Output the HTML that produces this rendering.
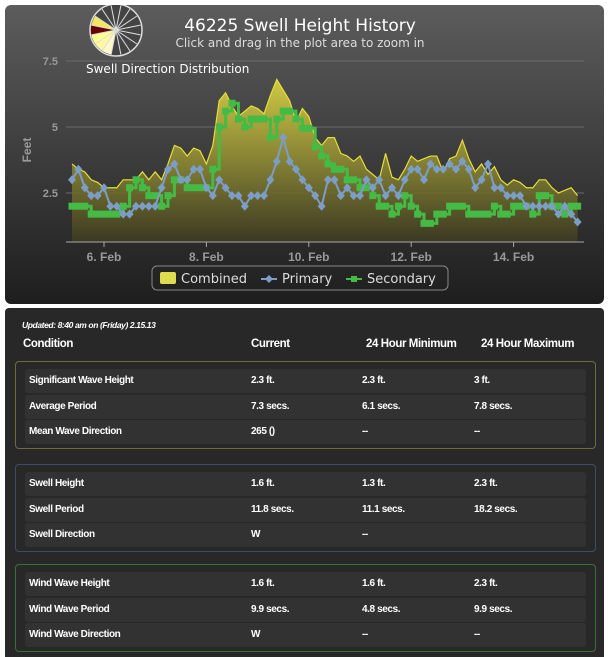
<!DOCTYPE html>
<html><head><meta charset="utf-8">
<style>
body{margin:0;width:609px;height:657px;background:#fff;overflow:hidden;font-family:"Liberation Sans",sans-serif;}
#chart-panel{position:absolute;left:5px;top:5px;width:599px;height:299px;border-radius:6px;background:linear-gradient(#5c5c5c,#1e1e1e);}
#table-panel{position:absolute;left:5px;top:308px;width:599px;height:349px;background:#282828;border-radius:4px 4px 0 0;}
.nar{font-family:"Liberation Sans",sans-serif;font-weight:bold;color:#fff;letter-spacing:-0.4px;}
.upd{position:absolute;left:17px;top:12px;font-size:8.5px;font-style:italic;}
.hdr{position:absolute;top:30px;font-size:11.5px;}
.grp{position:absolute;left:10px;width:579px;height:86px;border:1px solid #666;border-radius:4px;}
.row{position:absolute;left:9px;width:561px;height:24px;background:#323232;border-radius:3px;font-size:10px;}
.row span{position:absolute;top:6px;}
</style></head><body>
<div id="chart-panel">
<svg id="chart" width="599" height="299" style="position:absolute;left:0;top:0"></svg>
</div>
<div id="table-panel">
<div class="nar upd">Updated: 8:40 am on (Friday) 2.15.13</div>
<div class="nar hdr" style="left:18px">Condition</div>
<div class="nar hdr" style="left:246px">Current</div>
<div class="nar hdr" style="left:361px">24 Hour Minimum</div>
<div class="nar hdr" style="left:476px">24 Hour Maximum</div>
<div class="grp" style="top:53px;border-color:#6e6c3c">
 <div class="row nar" style="top:7px"><span style="left:4px">Significant Wave Height</span><span style="left:226px">2.3 ft.</span><span style="left:337px">2.3 ft.</span><span style="left:449px">3 ft.</span></div>
 <div class="row nar" style="top:33px"><span style="left:4px">Average Period</span><span style="left:226px">7.3 secs.</span><span style="left:337px">6.1 secs.</span><span style="left:449px">7.8 secs.</span></div>
 <div class="row nar" style="top:58px"><span style="left:4px">Mean Wave Direction</span><span style="left:226px">265 ()</span><span style="left:337px">--</span><span style="left:449px">--</span></div>
</div>
<div class="grp" style="top:156px;border-color:#3e4e62">
 <div class="row nar" style="top:7px"><span style="left:4px">Swell Height</span><span style="left:226px">1.6 ft.</span><span style="left:337px">1.3 ft.</span><span style="left:449px">2.3 ft.</span></div>
 <div class="row nar" style="top:33px"><span style="left:4px">Swell Period</span><span style="left:226px">11.8 secs.</span><span style="left:337px">11.1 secs.</span><span style="left:449px">18.2 secs.</span></div>
 <div class="row nar" style="top:58px"><span style="left:4px">Swell Direction</span><span style="left:226px">W</span><span style="left:337px">--</span></div>
</div>
<div class="grp" style="top:256px;border-color:#3c6e3c">
 <div class="row nar" style="top:7px"><span style="left:4px">Wind Wave Height</span><span style="left:226px">1.6 ft.</span><span style="left:337px">1.6 ft.</span><span style="left:449px">2.3 ft.</span></div>
 <div class="row nar" style="top:33px"><span style="left:4px">Wind Wave Period</span><span style="left:226px">9.9 secs.</span><span style="left:337px">4.8 secs.</span><span style="left:449px">9.9 secs.</span></div>
 <div class="row nar" style="top:58px"><span style="left:4px">Wind Wave Direction</span><span style="left:226px">W</span><span style="left:337px">--</span><span style="left:449px">--</span></div>
</div>
</div>
<script>
const startDay = 5.375;
const stepDays = 0.125;
const combined = [3.6,3.4,3.3,3.0,2.9,2.7,2.7,2.7,3.0,3.0,3.0,3.3,3.0,3.3,3.0,3.6,4.3,4.2,3.9,4.2,4.1,3.6,4.3,6.0,6.3,5.8,5.4,5.6,5.8,5.7,5.5,6.2,6.8,6.4,6.0,5.2,5.7,5.4,4.6,4.3,4.6,4.6,4.0,3.9,3.7,3.9,3.4,3.2,3.0,4.0,3.1,3.0,3.4,3.9,3.7,3.8,3.9,3.9,3.3,3.8,3.9,4.5,3.8,3.3,3.6,3.2,3.5,3.0,2.8,3.0,2.9,2.7,2.7,3.0,3.0,2.7,2.5,2.6,2.7,2.4];
const primary = [3.0,3.4,2.7,2.4,2.4,2.7,2.0,2.0,1.7,1.7,2.0,2.0,2.0,2.0,2.7,3.4,3.6,3.0,3.0,3.4,3.4,2.7,2.4,3.0,2.7,2.4,2.4,2.0,2.4,2.4,2.4,3.0,3.7,4.6,3.7,3.4,3.0,2.7,2.4,2.0,3.0,3.0,2.4,2.7,2.4,2.4,3.0,2.7,3.0,2.4,2.7,2.4,3.0,3.4,3.4,3.0,3.6,3.4,3.4,3.6,3.4,3.7,3.4,2.7,3.0,3.6,2.7,2.7,2.4,2.4,2.4,2.0,2.0,2.0,2.0,2.0,1.7,2.0,1.7,1.4];
const secondary = [2.0,2.0,2.0,1.7,1.7,1.7,1.7,1.7,2.0,2.7,3.0,2.7,2.4,2.4,2.0,2.4,3.0,3.0,2.7,2.7,2.7,2.7,3.4,5.0,5.6,5.9,5.3,5.0,5.3,5.3,5.3,4.6,5.3,5.6,5.6,5.3,4.95,4.95,4.25,3.9,3.6,3.4,3.4,3.0,3.0,2.7,2.7,2.4,2.0,2.0,1.7,2.0,2.4,2.0,1.7,1.35,1.35,1.7,1.7,2.0,2.0,2.0,1.7,1.7,1.7,1.7,2.0,1.7,1.7,2.0,2.0,2.0,1.7,2.4,2.4,2.0,2.0,1.7,2.0,2.0];
const yTicks = [2.5,5,7.5];
const xTickDays = [6,8,10,12,14];
const xTickLabels = ["6. Feb","8. Feb","10. Feb","12. Feb","14. Feb"];

const svg = document.getElementById('chart');
const NS = 'http://www.w3.org/2000/svg';
const OX = 5, OY = 5;
const xS = d => 104 + (d - 6) * 51.2 - OX;
const yS = v => 259 - v * 26.4 - OY;
const axisY = 242 - OY;
const plotL = 66 - OX, plotR = 584 - OX;
function mk(tag, attrs, parent){const e=document.createElementNS(NS,tag);for(const k in attrs)e.setAttribute(k,attrs[k]);(parent||svg).appendChild(e);return e;}

const defs = mk('defs',{});
const lg = mk('linearGradient',{id:'fillg',x1:0,y1:0,x2:0,y2:1},defs);
mk('stop',{offset:'0','stop-color':'#d6d045','stop-opacity':'0.95'},lg);
mk('stop',{offset:'1','stop-color':'#3c3a22','stop-opacity':'0.95'},lg);

yTicks.forEach(v=>{
  const g=mk('line',{x1:plotL,x2:plotR,y1:yS(v),y2:yS(v),stroke:'#6a6a6a','stroke-width':1});
  
  
  const t=mk('text',{x:plotL-8,y:yS(v)+4,'text-anchor':'end',fill:'#999','font-size':11,'font-weight':'bold','font-family':'Liberation Sans, sans-serif'});
  t.textContent=v;
  
  
});
const yt=mk('text',{x:0,y:0,transform:`translate(${31-OX},${150-OY}) rotate(-90)`,'text-anchor':'middle',fill:'#999','font-size':12,'font-weight':'bold','font-family':'Liberation Sans, sans-serif'});
yt.textContent='Feet';



const xOf = i => xS(startDay + i*stepDays);
let d = `M${xOf(0)},${axisY}`;
combined.forEach((v,i)=>{d+=` L${xOf(i)},${yS(v)}`;});
d += ` L${xOf(combined.length-1)},${axisY} Z`;
const area=mk('path',{d:d,fill:'url(#fillg)',stroke:'none'});


const cl=mk('polyline',{points:combined.map((v,i)=>xOf(i)+','+yS(v)).join(' '),fill:'none',stroke:'#e5df3a','stroke-width':1.2});



let sp=[];
secondary.forEach((v,i)=>{ if(i>0) sp.push(xOf(i)+','+yS(secondary[i-1])); sp.push(xOf(i)+','+yS(v)); });
const sl=mk('polyline',{points:sp.join(' '),fill:'none',stroke:'#44bb44','stroke-width':3});


secondary.forEach((v,i)=>{
  const r=mk('rect',{x:xOf(i)-3.5,y:yS(v)-3.5,width:7,height:7,fill:'#44bb44'});
  
  
});
const pl=mk('polyline',{points:primary.map((v,i)=>xOf(i)+','+yS(v)).join(' '),fill:'none',stroke:'#7c9dc6','stroke-width':2});


primary.forEach((v,i)=>{
  const x=xOf(i),y=yS(v);
  const p=mk('polygon',{points:`${x},${y-4.5} ${x+4},${y} ${x},${y+4.5} ${x-4},${y}`,fill:'#7c9dc6'});
  
  
});

const ax=mk('line',{x1:plotL,x2:plotR,y1:axisY,y2:axisY,stroke:'#aaa','stroke-width':1});


xTickDays.forEach((dd,i)=>{
  const tk=mk('line',{x1:xS(dd),x2:xS(dd),y1:axisY,y2:axisY+5,stroke:'#aaa'});
  
  
  const t=mk('text',{x:xS(dd),y:axisY+19,'text-anchor':'middle',fill:'#999','font-size':12,'font-weight':'bold','font-family':'Liberation Sans, sans-serif'});
  t.textContent=xTickLabels[i];
  
  
});

const ti=mk('text',{x:300-OX,y:31-OY,'text-anchor':'middle',fill:'#fff','font-size':17,'font-family':'DejaVu Sans, sans-serif'});
ti.textContent='46225 Swell Height History';


const st=mk('text',{x:300-OX,y:47-OY,'text-anchor':'middle',fill:'#ddd','font-size':12,'font-family':'DejaVu Sans, sans-serif'});
st.textContent='Click and drag in the plot area to zoom in';


const sd=mk('text',{x:86-OX,y:73-OY,fill:'#fff','font-size':12,'font-family':'DejaVu Sans, sans-serif'});
sd.textContent='Swell Direction Distribution';



const cx=116-OX, cy=30-OY, R=25;
const roseG=mk('g',{});


mk('circle',{cx:cx,cy:cy,r:R+1,fill:'#444',stroke:'#ddd','stroke-width':1.5},roseG);
const rc={9:'#fdf8c8',10:'#fff8a0',11:'#ffff90',12:'#6b0000',13:'#f2e860'};
for(let k=0;k<16;k++){
  const a0=(k*22.5-11.25-90)*Math.PI/180,a1=(k*22.5+11.25-90)*Math.PI/180;
  if(rc[k]) mk('path',{d:`M${cx},${cy} L${cx+R*Math.cos(a0)},${cy+R*Math.sin(a0)} A${R},${R} 0 0 1 ${cx+R*Math.cos(a1)},${cy+R*Math.sin(a1)} Z`,fill:rc[k]},roseG);
}
for(let k=0;k<16;k++){
  const a=(k*22.5-11.25-90)*Math.PI/180;
  mk('line',{x1:cx,y1:cy,x2:cx+R*Math.cos(a),y2:cy+R*Math.sin(a),stroke:'#ddd','stroke-width':1},roseG);
}

const lgG=mk('g',{});


mk('rect',{x:152-OX,y:266-OY,width:296,height:24,rx:5,fill:'none',stroke:'#888'},lgG);
const l1=mk('g',{},lgG);


mk('rect',{x:160-OX,y:272-OY,width:16,height:12,rx:2,fill:'#e0dc50'},l1);
mk('text',{x:181-OX,y:283-OY,fill:'#ddd','font-size':13,'font-family':'DejaVu Sans, sans-serif'},l1).textContent='Combined';
const l2=mk('g',{},lgG);


mk('line',{x1:261-OX,x2:277-OX,y1:279-OY,y2:279-OY,stroke:'#7c9dc6','stroke-width':2},l2);
mk('polygon',{points:`${269-OX},${275-OY} ${273-OX},${279-OY} ${269-OX},${283-OY} ${265-OX},${279-OY}`,fill:'#7c9dc6'},l2);
mk('text',{x:282-OX,y:283-OY,fill:'#ddd','font-size':13,'font-family':'DejaVu Sans, sans-serif'},l2).textContent='Primary';
const l3=mk('g',{},lgG);


mk('line',{x1:346-OX,x2:362-OX,y1:279-OY,y2:279-OY,stroke:'#44bb44','stroke-width':2},l3);
mk('rect',{x:351-OX,y:276-OY,width:6,height:6,fill:'#44bb44'},l3);
mk('text',{x:367-OX,y:283-OY,fill:'#ddd','font-size':13,'font-family':'DejaVu Sans, sans-serif'},l3).textContent='Secondary';
</script>
</body></html>
